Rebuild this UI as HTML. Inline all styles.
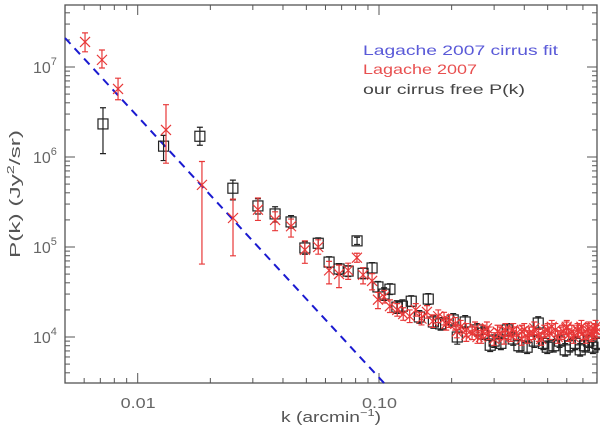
<!DOCTYPE html>
<html><head><meta charset="utf-8">
<style>
html,body{margin:0;padding:0;background:#fff;}
svg{display:block;font-family:"Liberation Sans",sans-serif;}
</style></head>
<body>
<svg id="chart" width="600" height="432" viewBox="0 0 600 432" xmlns="http://www.w3.org/2000/svg">
<g id="axes"></g>
<g id="fit"></g>
<g id="black"></g>
<g id="red"></g>
<g id="legend">
<text x="363" y="55" font-size="14" fill="#5a5ad8" textLength="195" lengthAdjust="spacingAndGlyphs">Lagache 2007 cirrus fit</text>
<text x="363" y="74" font-size="14" fill="#e85050" textLength="114" lengthAdjust="spacingAndGlyphs">Lagache 2007</text>
<text x="363" y="94" font-size="14" fill="#444" textLength="162" lengthAdjust="spacingAndGlyphs">our cirrus free P(k)</text>
</g>
<text x="281" y="422" font-size="15" fill="#555" textLength="100" lengthAdjust="spacingAndGlyphs">k (arcmin<tspan dy="-6" font-size="10">−1</tspan><tspan dy="6">)</tspan></text>
<text transform="translate(20,258) rotate(-90)" font-size="15" fill="#555" textLength="128" lengthAdjust="spacingAndGlyphs">P(k) (Jy<tspan dy="-6" font-size="10">2</tspan><tspan dy="6">/sr)</tspan></text>
</svg>
<script>
// ---- data ----
const xTickVals = [0.01, 0.10];
const xTickLabels = ["0.01", "0.10"];
const yTickExps = [4, 5, 6, 7];
const fitAmp = 2.1e7, fitK0 = 0.005, fitSlope = -2.9;

const kRed = [0.00605,0.00711,0.00829,0.0131,0.01846,0.02483,0.0315,0.0371,0.0432,0.0493,0.056,0.0621,0.0683,0.0745,0.081,0.0859,0.0936,0.099,
 0.105,0.111,0.119,0.126,0.134,0.142,0.150,0.158,0.167,0.176,0.186,0.196,0.207,0.218,0.230,0.243,0.256,0.270,0.285,0.300,0.317,0.334,0.352,0.371,0.391,0.413,0.435,0.459,0.484,0.510,0.538,0.567,0.598,0.630,0.665,0.70,0.74,0.78,
 0.21,0.25,0.28,0.33,0.36,0.39,0.44,0.47,0.52,0.55,0.60,0.64,0.69,0.72,0.76,0.79,
 0.19,0.23,0.265,0.31,0.345,0.40,0.42,0.50,0.58,0.61,0.67,0.73,0.77,0.80];
const pRed = [1.9e7,1.2e7,5.7e6,2.0e6,4.9e5,2.1e5,2.6e5,2.0e5,1.7e5,9.3e4,1.0e5,5.5e4,5.0e4,5.5e4,7.6e4,4.9e4,4.2e4,2.6e4,
 2.8e4,2.2e4,2.0e4,1.8e4,1.7e4,2.0e4,1.6e4,1.9e4,1.5e4,1.7e4,1.6e4,1.5e4,1.4e4,1.3e4,1.2e4,1.1e4,1.0e4,1.15e4,1.1e4,9.5e3,1.1e4,1.2e4,1.05e4,1.1e4,1.15e4,1.0e4,1.1e4,1.05e4,1.15e4,1.1e4,1.2e4,1.1e4,1.25e4,1.15e4,1.2e4,1.1e4,1.25e4,1.2e4,
 1.15e4,1.25e4,1.25e4,9.8e3,1.2e4,9.5e3,1.25e4,9.5e3,1.3e4,1.0e4,1.3e4,1.0e4,1.3e4,1.0e4,1.05e4,1.3e4,
 1.4e4,1.05e4,1.0e4,1.15e4,1.1e4,1.2e4,1.1e4,1.2e4,1.15e4,1.05e4,1.15e4,1.2e4,1.1e4,1.15e4];
const errUpRed = [0.10,0.11,0.12,0.28,0.26,0.21,0.13,0.09,0.08,0.10,0.08,0.10,0.10,0.08,0.05,0.08,0.08,0.08];
const errDnRed = [0.11,0.09,0.12,0.37,0.88,0.42,0.12,0.12,0.12,0.15,0.08,0.15,0.15,0.10,0.05,0.10,0.10,0.10];

const kBlk = [0.00718,0.0128,0.0181,0.0248,0.0315,0.0371,0.0432,0.0493,0.056,0.0621,0.0683,0.0745,0.0811,0.0859,0.0936,0.099,0.111,0.1186,0.136,0.147,0.16,0.168,0.203,0.211,0.2276,0.255,0.289,0.34,0.411,0.457,0.498,0.591,0.682,0.77,
 0.30,0.32,0.36,0.38,0.44,0.48,0.53,0.56,0.62,0.65,0.71,0.74,0.80,0.105,0.125,0.18,0.27];
const pBlk = [2.33e6,1.32e6,1.7e6,4.5e5,2.86e5,2.33e5,1.9e5,9.75e4,1.1e5,6.8e4,5.7e4,5.4e4,1.17e5,5.1e4,5.85e4,3.6e4,3.4e4,2.15e4,2.5e4,1.67e4,2.64e4,1.47e4,1.55e4,1.0e4,1.47e4,1.2e4,8.1e3,1.2e4,7.7e3,1.43e4,7.7e3,7.2e3,7.2e3,7.7e3,
 9.0e3,8.5e3,9.5e3,8.0e3,9.0e3,8.5e3,8.0e3,9.0e3,8.0e3,8.5e3,8.0e3,9.0e3,8.5e3,3.0e4,2.2e4,1.4e4,1.1e4];
const errUpBlk = [0.18,0.12,0.10,0.09,0.08,0.08,0.07,0.07,0.06,0.06,0.06,0.06,0.04,0.06,0.06,0.06,0.06,0.07,0.06,0.07,0.06,0.07,0.07,0.08];
const errDnBlk = [0.33,0.16,0.10,0.13,0.09,0.09,0.07,0.07,0.06,0.06,0.06,0.06,0.04,0.06,0.06,0.06,0.06,0.07,0.06,0.07,0.06,0.07,0.07,0.08];

// ---- scales ----
const L=65, R=597, T=5, B=383;
const X = k => 137.7 + (Math.log10(k) + 2) * 241.3;
const Y = p => 157 - (Math.log10(p) - 6) * 90;
const NS="http://www.w3.org/2000/svg";
function mk(tag, attrs, parent){const e=document.createElementNS(NS,tag);for(const a in attrs)e.setAttribute(a,attrs[a]);parent.appendChild(e);return e;}

const axes=document.getElementById('axes');
const frame=mk('rect',{x:L,y:T,width:R-L,height:B-T,fill:'none',stroke:'#555','stroke-width':1.3},axes);


for(let e=-3;e<=0;e++){for(let m=1;m<10;m++){const v=m*Math.pow(10,e);const x=X(v);if(x<L||x>R)continue;const len=m===1?10:5;
 const t1=mk('line',{x1:x,x2:x,y1:B,y2:B-len,stroke:'#555','stroke-width':1},axes);
 
 
 const t2=mk('line',{x1:x,x2:x,y1:T,y2:T+len,stroke:'#555','stroke-width':1},axes);
 
 }}
xTickVals.forEach((v,i)=>{const t=mk('text',{x:X(v)-17,y:408,'font-size':15,fill:'#666',textLength:35,lengthAdjust:'spacingAndGlyphs'},axes);t.textContent=xTickLabels[i];
 
 });
for(let e=3;e<=7;e++){for(let m=1;m<10;m++){const v=m*Math.pow(10,e);const y=Y(v);if(y<T||y>B)continue;const len=m===1?10:5;
 const t1=mk('line',{x1:L,x2:L+len,y1:y,y2:y,stroke:'#555','stroke-width':1},axes);
 
 
 const t2=mk('line',{x1:R,x2:R-len,y1:y,y2:y,stroke:'#555','stroke-width':1},axes);
 
 }}
yTickExps.forEach(e=>{const t=mk('text',{x:33,y:Y(Math.pow(10,e))+6,'font-size':16,fill:'#666'},axes);
 t.innerHTML='10<tspan dy="-8" font-size="11">'+e+'</tspan>';
 
 });

const fitG=document.getElementById('fit');
const kA=0.005, kB=Math.pow(10,-0.979);
const fl=mk('line',{x1:X(kA),y1:Y(fitAmp*Math.pow(kA/fitK0,fitSlope)),x2:X(kB),y2:Y(fitAmp*Math.pow(kB/fitK0,fitSlope)),stroke:'#1a1ad0','stroke-width':2,'stroke-dasharray':'8,6'},fitG);



function errbar(g,k,p,up,dn,col){const x=X(k);const y1=Math.max(T,Y(p*Math.pow(10,up))),y2=Math.min(B,Y(p/Math.pow(10,dn)));
 const e=mk('path',{d:`M${x},${y1}V${y2}M${x-3},${y1}H${x+3}M${x-3},${y2}H${x+3}`,stroke:col,'stroke-width':1.2,fill:'none'},g);
 
 }

const bg=document.getElementById('black');
kBlk.forEach((k,i)=>{const x=X(k),y=Y(pBlk[i]);
 errbar(bg,k,pBlk[i],errUpBlk[i]??0.07,errDnBlk[i]??0.07,'#222');
 const s=mk('rect',{x:x-5,y:y-5,width:10,height:10,fill:'none',stroke:'#222','stroke-width':1.2},bg);
 
 });

const rg=document.getElementById('red');
kRed.forEach((k,i)=>{const x=X(k),y=Y(pRed[i]);
 errbar(rg,k,pRed[i],errUpRed[i]??0.07,errDnRed[i]??0.07,'#e83838');
 const c=mk('path',{d:`M${x-5},${y-5}L${x+5},${y+5}M${x-5},${y+5}L${x+5},${y-5}`,stroke:'#e83838','stroke-width':1.2,fill:'none'},rg);
 
 });
</script>
</body></html>
